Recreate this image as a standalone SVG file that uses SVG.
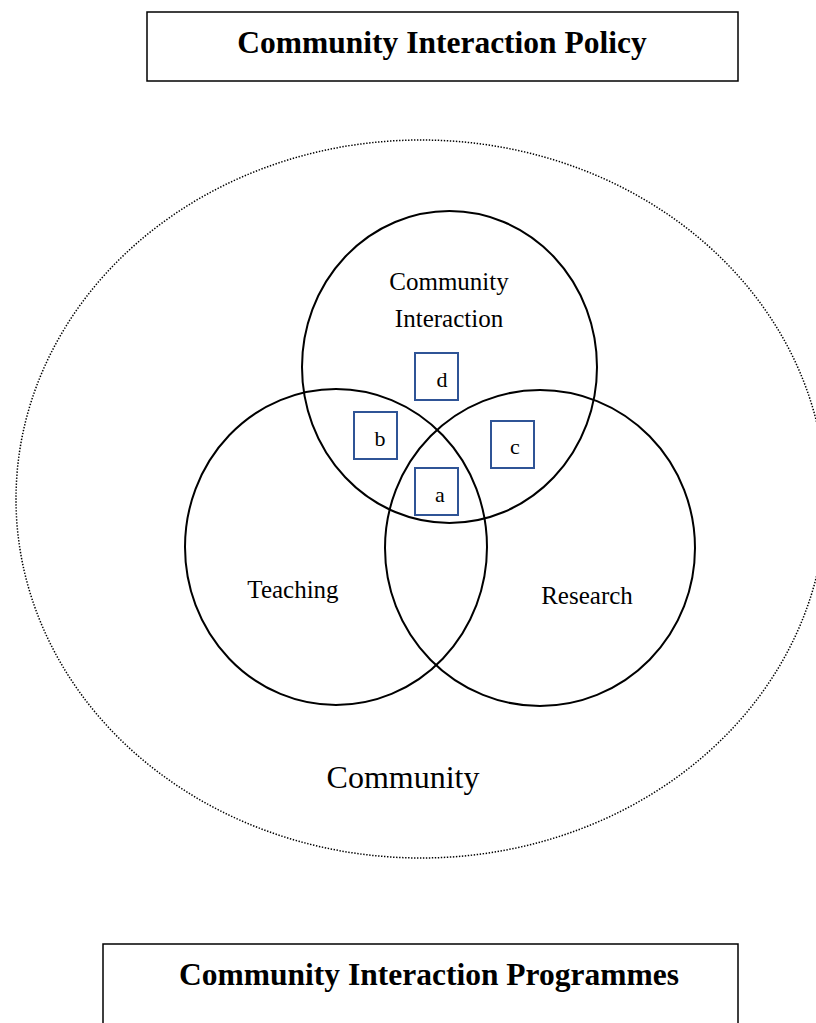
<svg xmlns="http://www.w3.org/2000/svg" width="816" height="1023" viewBox="0 0 816 1023">
<style>
.title{font-family:"Liberation Serif","Times New Roman",serif;font-weight:bold;font-size:31.5px;fill:#000;text-anchor:middle}
.lbl{font-family:"Liberation Serif","Times New Roman",serif;font-size:25px;fill:#000;text-anchor:middle}
.big{font-family:"Liberation Serif","Times New Roman",serif;font-size:32px;fill:#000;text-anchor:middle}
.ltr{font-family:"Liberation Serif","Times New Roman",serif;font-size:22px;fill:#000;text-anchor:middle}
.frame{fill:#fff;stroke:#000;stroke-width:1.5}
.circ{fill:none;stroke:#000;stroke-width:2}
.tag{fill:none;stroke:#2F5496;stroke-width:2}
</style>
<rect width="816" height="1023" fill="#fff"/>
<g id="policy">
<rect class="frame" x="147" y="12" width="591" height="69"/>
<text class="title" x="442" y="53">Community Interaction Policy</text>
</g>
<g id="community">
<ellipse cx="421" cy="499" rx="405" ry="359" fill="none" stroke="#000" stroke-width="1.5" stroke-dasharray="1.4 1.6"/>
<text class="big" x="403" y="788">Community</text>
</g>
<g id="community-interaction">
<ellipse class="circ" cx="449.5" cy="367" rx="147.5" ry="156"/>
<text class="lbl" x="449" y="290">Community</text>
<text class="lbl" x="449" y="327">Interaction</text>
</g>
<g id="teaching">
<ellipse class="circ" cx="336" cy="547" rx="151" ry="158"/>
<text class="lbl" x="293" y="598">Teaching</text>
</g>
<g id="research">
<ellipse class="circ" cx="540" cy="548" rx="155" ry="158"/>
<text class="lbl" x="587" y="604">Research</text>
</g>
<g id="box-d">
<rect class="tag" x="415" y="353" width="43" height="47"/>
<text class="ltr" x="442" y="387">d</text>
</g>
<g id="box-b">
<rect class="tag" x="354" y="412" width="43" height="47"/>
<text class="ltr" x="380" y="446">b</text>
</g>
<g id="box-c">
<rect class="tag" x="491" y="421" width="43" height="47"/>
<text class="ltr" x="515" y="454">c</text>
</g>
<g id="box-a">
<rect class="tag" x="415" y="468" width="43" height="47"/>
<text class="ltr" x="440" y="502">a</text>
</g>
<g id="programmes">
<path class="frame" d="M103,1030 V944 H738 V1030"/>
<text class="title" x="429" y="985">Community Interaction Programmes</text>
</g>
<g id="connectors"></g>
</svg>
